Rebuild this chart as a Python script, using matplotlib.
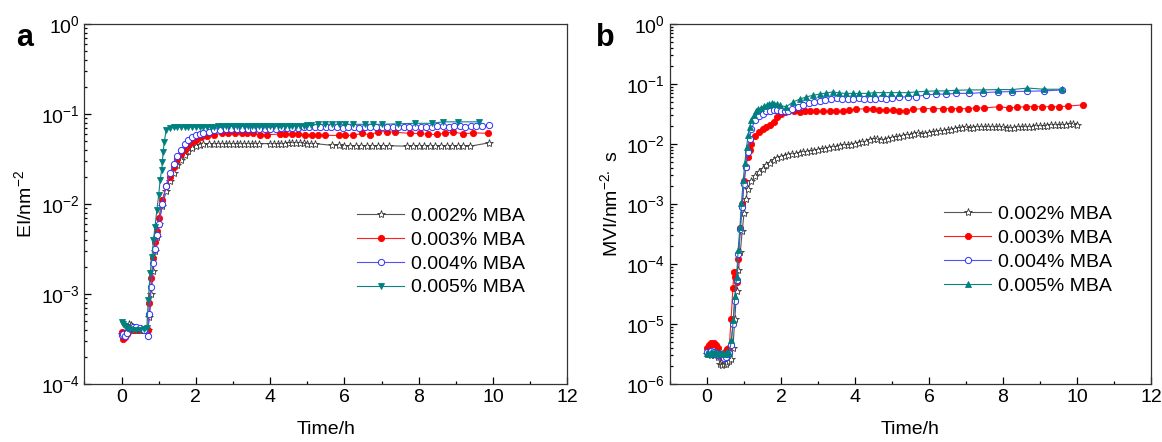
import matplotlib
matplotlib.use("Agg")
import matplotlib.pyplot as plt
from matplotlib.ticker import MultipleLocator, LogLocator, NullFormatter

plt.rcParams["font.family"] = ["Liberation Sans", "DejaVu Sans"]
plt.rcParams["mathtext.fontset"] = "custom"
plt.rcParams["mathtext.rm"] = "Liberation Sans"
plt.rcParams["mathtext.default"] = "regular"
plt.rcParams["axes.unicode_minus"] = False

labels = ["0.002% MBA", "0.003% MBA", "0.004% MBA", "0.005% MBA"]

# ---------------- panel a : EI ----------------
ta_002 = [0.0, 0.05, 0.1, 0.15, 0.2, 0.25, 0.3, 0.4, 0.5, 0.6, 0.7, 0.75, 0.8, 0.85, 0.9, 0.95, 1.0,
          1.1, 1.2, 1.3, 1.4, 1.5, 1.6, 1.7, 1.8, 1.9, 2.0, 2.1, 2.2, 2.35, 2.5, 2.6, 2.7, 2.8, 2.9,
          3.0, 3.1, 3.2, 3.3, 3.4, 3.5, 3.6, 3.7, 4.0, 4.1, 4.2, 4.3, 4.4, 4.5, 4.6, 4.7, 4.8, 4.9,
          5.0, 5.1, 5.2, 5.66, 5.85, 6.0, 6.15, 6.3, 6.45, 6.6, 6.75, 6.9, 7.05, 7.2, 7.67, 7.85,
          8.0, 8.15, 8.3, 8.45, 8.6, 8.75, 8.9, 9.05, 9.2, 9.38, 9.9]
ea_002 = [3.6e-4, 3.3e-4, 3.4e-4, 3.9e-4, 4.7e-4, 4.5e-4, 4.2e-4, 4.0e-4, 4.0e-4, 4.0e-4, 4.0e-4,
          5.5e-4, 1.0e-3, 1.8e-3, 3.0e-3, 4.3e-3, 6.0e-3,
          9.5e-3, 0.014, 0.018, 0.022, 0.027, 0.031, 0.035, 0.039, 0.042, 0.044,
          0.045, 0.046, 0.047, 0.047, 0.047, 0.047, 0.047, 0.047, 0.047, 0.047, 0.047, 0.047,
          0.047, 0.047, 0.047, 0.047,
          0.047, 0.047, 0.047, 0.047, 0.047, 0.048, 0.048, 0.048, 0.048, 0.048, 0.047, 0.047, 0.047,
          0.045, 0.045, 0.0445, 0.0445, 0.0445, 0.0445, 0.0445, 0.0445, 0.0445, 0.0445, 0.0445,
          0.044, 0.044, 0.044, 0.044, 0.044, 0.044, 0.044, 0.044, 0.044, 0.044, 0.044, 0.044,
          0.048]

ta_003 = [0.0, 0.05, 0.1, 0.15, 0.2, 0.3, 0.4, 0.5, 0.6, 0.7, 0.75, 0.8, 0.85, 0.9, 0.95, 1.0,
          1.1, 1.2, 1.3, 1.4, 1.5, 1.6, 1.7, 1.8, 1.9, 2.0, 2.15, 2.3, 2.5, 2.7, 2.87, 3.05, 3.23,
          3.37, 3.55, 3.73, 3.91, 4.27, 4.4, 4.58, 4.76, 4.94, 5.12, 5.3, 5.48, 5.84, 6.01, 6.24,
          6.46, 6.69, 6.91, 7.14, 7.36, 7.76, 8.03, 8.26, 8.48, 8.71, 8.93, 9.2, 9.45, 9.87]
ea_003 = [3.8e-4, 3.2e-4, 3.3e-4, 3.6e-4, 3.9e-4, 4.0e-4, 4.0e-4, 4.0e-4, 4.0e-4, 4.0e-4,
          8.0e-4, 1.5e-3, 2.5e-3, 3.8e-3, 5.0e-3, 7.0e-3,
          0.011, 0.016, 0.020, 0.026, 0.032, 0.036, 0.040, 0.045, 0.049, 0.052, 0.055, 0.057, 0.059,
          0.061, 0.061, 0.061, 0.062, 0.061, 0.061, 0.059, 0.059,
          0.060, 0.060, 0.060, 0.060, 0.058, 0.058, 0.058, 0.058, 0.058, 0.058, 0.058,
          0.061, 0.059, 0.0636, 0.0636, 0.063, 0.061, 0.061, 0.0595, 0.0595, 0.061, 0.0636,
          0.060, 0.062, 0.061]

ta_004 = [0.0, 0.05, 0.1, 0.15, 0.2, 0.3, 0.4, 0.5, 0.6, 0.7, 0.75, 0.8, 0.85, 0.9, 0.95, 1.0,
          1.1, 1.2, 1.3, 1.4, 1.5, 1.6, 1.7, 1.8, 1.9, 2.0, 2.1, 2.2, 2.35, 2.5, 2.65,
          2.8, 2.95, 3.1, 3.25, 3.4, 3.55, 3.7, 3.85, 4.0, 4.15, 4.3, 4.45, 4.6, 4.75, 4.9, 5.05,
          5.2, 5.35, 5.5, 5.65, 5.8, 5.95, 6.1, 6.25, 6.4, 6.55, 6.7, 6.85, 7.0, 7.15, 7.3, 7.45,
          7.6, 7.75, 7.9, 8.05, 8.2, 8.35, 8.5, 8.65, 8.8, 8.95, 9.1, 9.25, 9.4, 9.55, 9.7, 9.9]
ea_004 = [3.5e-4, 3.6e-4, 3.4e-4, 3.7e-4, 4.2e-4, 4.3e-4, 4.3e-4, 4.2e-4, 4.0e-4, 3.4e-4,
          6.0e-4, 1.2e-3, 2.2e-3, 3.2e-3, 4.5e-3, 6.0e-3,
          0.010, 0.016, 0.022, 0.028, 0.034, 0.040, 0.046, 0.051, 0.055, 0.058, 0.060, 0.062, 0.064,
          0.066, 0.067,
          0.068, 0.068, 0.068, 0.068, 0.068, 0.068, 0.069, 0.068, 0.069, 0.069, 0.070, 0.070,
          0.070, 0.070, 0.071, 0.071,
          0.072, 0.072, 0.071, 0.071, 0.071, 0.070, 0.071, 0.071, 0.070, 0.071, 0.071, 0.072,
          0.072, 0.071, 0.071, 0.072,
          0.072, 0.072, 0.071, 0.072, 0.072, 0.072, 0.073, 0.073, 0.072, 0.073, 0.073, 0.072,
          0.073, 0.073, 0.074, 0.075]

ta_005 = [0.0, 0.05, 0.1, 0.15, 0.2, 0.3, 0.4, 0.5, 0.6, 0.68, 0.72, 0.77, 0.82, 0.86, 0.9, 0.95,
          1.0, 1.04, 1.08, 1.1, 1.12, 1.15, 1.2, 1.3, 1.4, 1.5, 1.6, 1.7, 1.8, 1.9, 2.0, 2.1, 2.2,
          2.3, 2.4, 2.5, 2.6, 2.7, 2.8, 2.9, 3.0, 3.1, 3.2, 3.3, 3.4, 3.5, 3.6, 3.7, 3.8, 3.9, 4.0,
          4.1, 4.2, 4.3, 4.4, 4.5, 4.6, 4.7, 4.8, 4.9, 5.0, 5.1, 5.3, 5.48, 5.66, 5.84, 6.01,
          6.24, 6.55, 6.78, 7.0, 7.45, 7.9, 8.35, 8.66, 9.06, 9.63]
ea_005 = [4.9e-4, 4.6e-4, 4.4e-4, 4.2e-4, 4.1e-4, 4.0e-4, 4.0e-4, 4.0e-4, 4.1e-4, 4.2e-4,
          8.5e-4, 1.7e-3, 2.6e-3, 4.0e-3, 5.6e-3, 8.5e-3,
          0.0126, 0.0185, 0.024, 0.0295, 0.038, 0.049, 0.066, 0.070, 0.071, 0.071, 0.072, 0.072,
          0.072, 0.072, 0.072, 0.072, 0.072,
          0.072, 0.072, 0.072, 0.073, 0.073, 0.073, 0.073, 0.073, 0.073, 0.073, 0.073, 0.073,
          0.073, 0.073, 0.073, 0.073, 0.073, 0.073,
          0.073, 0.073, 0.073, 0.073, 0.074, 0.074, 0.074, 0.074, 0.074, 0.075, 0.075, 0.077,
          0.077, 0.077, 0.077, 0.077,
          0.077, 0.077, 0.077, 0.077, 0.078, 0.079, 0.079, 0.082, 0.082, 0.082]

# ---------------- panel b : MVI ----------------
tb_002 = [0.0, 0.1, 0.2, 0.3, 0.35, 0.4, 0.45, 0.5, 0.55, 0.6, 0.65, 0.7, 0.75, 0.8, 0.85, 0.9,
          0.95, 1.0, 1.05, 1.1, 1.2, 1.3, 1.4, 1.5, 1.6, 1.7, 1.8, 1.9, 2.0,
          2.1, 2.2, 2.3, 2.4, 2.5, 2.6, 2.7, 2.8, 2.9, 3.0, 3.1, 3.2, 3.3, 3.4, 3.5, 3.6, 3.7,
          3.8, 3.9, 4.0, 4.1, 4.2, 4.3, 4.4, 4.5, 4.6, 4.7, 4.8, 4.9, 5.0, 5.1, 5.2, 5.3, 5.4,
          5.5, 5.6, 5.7, 5.8, 5.9, 6.0, 6.1, 6.2, 6.3, 6.4, 6.5, 6.6, 6.7, 6.8, 6.9, 7.0, 7.1,
          7.2, 7.3, 7.4, 7.5, 7.6, 7.7, 7.8, 7.9, 8.0, 8.1, 8.2, 8.3, 8.4, 8.5, 8.6, 8.7, 8.8,
          8.9, 9.0, 9.1, 9.2, 9.3, 9.4, 9.5, 9.6, 9.7, 9.8, 9.9, 10.0]
mb_002 = [3.2e-6, 3.0e-6, 3.1e-6, 2.8e-6, 2.2e-6, 2.1e-6, 2.2e-6, 2.2e-6, 2.3e-6, 2.4e-6, 2.6e-6,
          4.0e-6, 1.2e-5, 3.5e-5, 8.0e-5, 1.6e-4,
          3.5e-4, 7.0e-4, 1.2e-3, 1.8e-3, 2.4e-3, 2.9e-3, 3.4e-3, 3.9e-3, 4.4e-3, 4.9e-3, 5.4e-3,
          5.8e-3, 6.1e-3,
          6.4e-3, 6.6e-3, 6.8e-3, 6.9e-3, 7.1e-3, 7.3e-3, 7.5e-3, 7.6e-3, 7.8e-3, 8.0e-3, 8.2e-3,
          8.4e-3, 8.6e-3, 8.8e-3, 9.0e-3, 9.3e-3, 9.8e-3,
          9.6e-3, 9.8e-3, 1.02e-2, 1.05e-2, 1.08e-2, 1.1e-2, 1.15e-2, 1.22e-2, 1.22e-2, 1.18e-2,
          1.18e-2, 1.22e-2, 1.26e-2, 1.3e-2, 1.33e-2, 1.36e-2, 1.4e-2,
          1.43e-2, 1.47e-2, 1.52e-2, 1.48e-2, 1.5e-2, 1.54e-2, 1.57e-2, 1.6e-2, 1.63e-2, 1.66e-2,
          1.7e-2, 1.74e-2, 1.78e-2, 1.84e-2, 1.88e-2, 1.9e-2, 1.88e-2,
          1.86e-2, 1.9e-2, 1.93e-2, 1.95e-2, 1.93e-2, 1.9e-2, 1.92e-2, 1.94e-2, 1.9e-2, 1.88e-2,
          1.86e-2, 1.88e-2, 1.9e-2, 1.92e-2, 1.93e-2, 1.95e-2, 1.96e-2,
          1.98e-2, 2.0e-2, 2.02e-2, 2.03e-2, 2.05e-2, 2.07e-2, 2.09e-2, 2.1e-2, 2.12e-2, 2.14e-2,
          2.16e-2, 2.1e-2]

tb_003 = [0.0, 0.05, 0.1, 0.15, 0.2, 0.25, 0.3, 0.35, 0.4, 0.45, 0.5, 0.55, 0.6, 0.65, 0.7,
          0.73, 0.76, 0.8, 0.85, 0.9, 0.95, 1.0, 1.05, 1.1, 1.15, 1.2, 1.3, 1.4, 1.5, 1.6, 1.7,
          1.8, 1.9, 2.0, 2.1, 2.2, 2.35, 2.5, 2.65, 2.77, 2.95, 3.13, 3.31, 3.49, 3.67, 3.85,
          4.03, 4.3, 4.48, 4.66, 4.84, 5.02, 5.2, 5.38, 5.56, 5.83, 6.1, 6.37, 6.59, 6.82, 7.04,
          7.27, 7.49, 7.89, 8.16, 8.39, 8.61, 8.84, 9.06, 9.29, 9.51, 9.75, 10.15]
mb_003 = [4.0e-6, 4.4e-6, 4.8e-6, 4.6e-6, 4.8e-6, 4.5e-6, 4.0e-6, 3.2e-6, 2.8e-6, 3.0e-6,
          3.6e-6, 3.8e-6, 4.0e-6, 1.2e-5, 4.0e-5,
          7.4e-5, 6.0e-5, 5.0e-5, 1.2e-4, 4.0e-4, 1.0e-3, 2.4e-3, 4.2e-3, 6.0e-3, 8.0e-3, 0.010,
          0.0135, 0.016, 0.018, 0.0195, 0.021,
          0.0235, 0.028, 0.032, 0.034, 0.035, 0.036, 0.034, 0.035, 0.035, 0.035, 0.035, 0.035,
          0.035, 0.035, 0.037,
          0.038, 0.039, 0.039, 0.037, 0.037, 0.037, 0.036, 0.036, 0.038, 0.039, 0.039, 0.039,
          0.039, 0.039, 0.039,
          0.040, 0.040, 0.042, 0.040, 0.041, 0.042, 0.042, 0.042, 0.042, 0.042, 0.043, 0.045]

tb_004 = [0.0, 0.05, 0.1, 0.15, 0.2, 0.25, 0.3, 0.35, 0.4, 0.45, 0.5, 0.55, 0.6, 0.65, 0.7,
          0.75, 0.8, 0.85, 0.9, 0.95, 1.0, 1.05, 1.1, 1.15, 1.2, 1.3, 1.4, 1.5, 1.6, 1.7, 1.8,
          1.9, 2.0, 2.1, 2.2, 2.3, 2.45, 2.6, 2.75, 2.9, 3.05, 3.2, 3.35, 3.5, 3.65, 3.8, 3.95,
          4.1, 4.25, 4.4, 4.55, 4.7, 4.85, 5.0, 5.2, 5.42, 5.65, 5.92, 6.19, 6.46, 6.73, 7.09,
          7.45, 7.85, 8.25, 8.66, 9.11, 9.6]
mb_004 = [3.4e-6, 3.3e-6, 3.5e-6, 3.2e-6, 3.4e-6, 3.3e-6, 3.1e-6, 3.2e-6, 3.0e-6, 2.7e-6,
          2.8e-6, 3.2e-6, 3.3e-6, 4.5e-6, 1.0e-5,
          2.4e-5, 5.5e-5, 1.5e-4, 3.8e-4, 9.0e-4, 2.2e-3, 4.2e-3, 7.5e-3, 0.012, 0.018, 0.025,
          0.029, 0.032, 0.035, 0.036, 0.037,
          0.037, 0.036, 0.035, 0.036, 0.039, 0.042, 0.045, 0.048, 0.050, 0.052, 0.055, 0.057,
          0.058, 0.057, 0.056, 0.057,
          0.058, 0.057, 0.057, 0.056, 0.058, 0.057, 0.058, 0.060, 0.062, 0.062, 0.066, 0.068,
          0.068, 0.070, 0.070,
          0.072, 0.074, 0.075, 0.076, 0.077, 0.080]

tb_005 = [0.0, 0.05, 0.1, 0.15, 0.2, 0.25, 0.3, 0.35, 0.4, 0.45, 0.5, 0.55, 0.6, 0.66, 0.71,
          0.75, 0.8, 0.84, 0.89, 0.93, 0.98, 1.02, 1.07, 1.11, 1.15, 1.2, 1.27, 1.33, 1.39, 1.45,
          1.53, 1.61, 1.68, 1.75, 1.82, 1.88, 1.96, 2.14, 2.32, 2.5, 2.68, 2.86, 3.04, 3.22, 3.4,
          3.58, 3.76, 3.94, 4.12, 4.34, 4.52, 4.75, 4.97, 5.2, 5.42, 5.65, 5.92, 6.19, 6.46,
          6.73, 7.09, 7.45, 7.85, 8.25, 8.66, 9.11, 9.6]
mb_005 = [3.3e-6, 3.2e-6, 3.4e-6, 3.3e-6, 3.3e-6, 3.4e-6, 3.2e-6, 3.3e-6, 3.3e-6, 3.2e-6,
          3.3e-6, 3.4e-6, 3.3e-6, 5.4e-6, 1.17e-5,
          2.9e-5, 6.1e-5, 1.7e-4, 4.2e-4, 1.03e-3, 2.5e-3, 4.8e-3, 9.0e-3, 0.014, 0.019, 0.025,
          0.030, 0.035, 0.038, 0.040,
          0.043, 0.045, 0.047, 0.048, 0.047, 0.047, 0.044, 0.042, 0.050, 0.056, 0.061, 0.065,
          0.068, 0.071, 0.074,
          0.071, 0.070, 0.070, 0.070, 0.070, 0.072, 0.072, 0.072, 0.072, 0.072, 0.074, 0.076,
          0.077, 0.077,
          0.079, 0.080, 0.080, 0.081, 0.081, 0.086, 0.082, 0.082]

styles = [
    dict(color="#555555", marker="*", mfc="white", mec="#333333", ms=6, mew=0.6),
    dict(color="#ff2020", marker="o", mfc="#ff0000", mec="#ff0000", ms=4.5, mew=0.6),
    dict(color="#5050ff", marker="o", mfc="white", mec="#3030ff", ms=4.5, mew=0.7),
    dict(color="#108080", marker="v", mfc="#008080", mec="#008080", ms=5, mew=0.6),
]
styles_b = list(styles)
styles_b[3] = dict(styles[3], marker="^")


def style_axes(ax, ylim, ylabel, legend_xy):
    ax.set_yscale("log")
    ax.set_xlim(-1, 12)
    ax.set_ylim(*ylim)
    ax.xaxis.set_major_locator(MultipleLocator(2))
    ax.xaxis.set_minor_locator(MultipleLocator(1))
    ax.yaxis.set_major_locator(LogLocator(base=10, numticks=10))
    ax.yaxis.set_minor_locator(LogLocator(base=10, subs=range(2, 10), numticks=10))
    ax.yaxis.set_minor_formatter(NullFormatter())
    ax.tick_params(which="both", direction="in", top=False, right=False,
                   labelsize=14, width=0.9)
    ax.tick_params(which="major", length=5)
    ax.tick_params(which="minor", length=2.5)
    for s in ax.spines.values():
        s.set_linewidth(0.9)
        s.set_color("#333333")
    ax.set_xlabel("Time/h", fontsize=14, labelpad=11)
    ax.set_ylabel(ylabel, fontsize=14, labelpad=4)
    ax.legend(loc="upper left", frameon=False, fontsize=14, borderpad=0,
              handlelength=2.4, handletextpad=0.35, labelspacing=0.32,
              bbox_to_anchor=legend_xy)


fig = plt.figure(figsize=(11.62, 4.42), dpi=100)
ax1 = fig.add_axes([0.0726, 0.131, 0.4157, 0.8145])
ax2 = fig.add_axes([0.5766, 0.131, 0.4140, 0.8145])

series_a = [(ta_002, ea_002), (ta_003, ea_003), (ta_004, ea_004), (ta_005, ea_005)]
for (t, v), lab, st in zip(series_a, labels, styles):
    ax1.plot(t, v, lw=0.8, label=lab, **st)
style_axes(ax1, (1e-4, 1e0), r"EI/nm$^{-2}$", (0.545, 0.518))

series_b = [(tb_002, mb_002), (tb_003, mb_003), (tb_004, mb_004), (tb_005, mb_005)]
for (t, v), lab, st in zip(series_b, labels, styles_b):
    ax2.plot(t, v, lw=0.8, label=lab, **st)
style_axes(ax2, (1e-6, 1e0), r"MVI/nm$^{-2.}$ s", (0.55, 0.523))

fig.text(0.014, 0.895, "a", fontsize=22, fontweight="bold")
fig.text(0.513, 0.895, "b", fontsize=22, fontweight="bold")

fig.savefig("out.png", dpi=100)
